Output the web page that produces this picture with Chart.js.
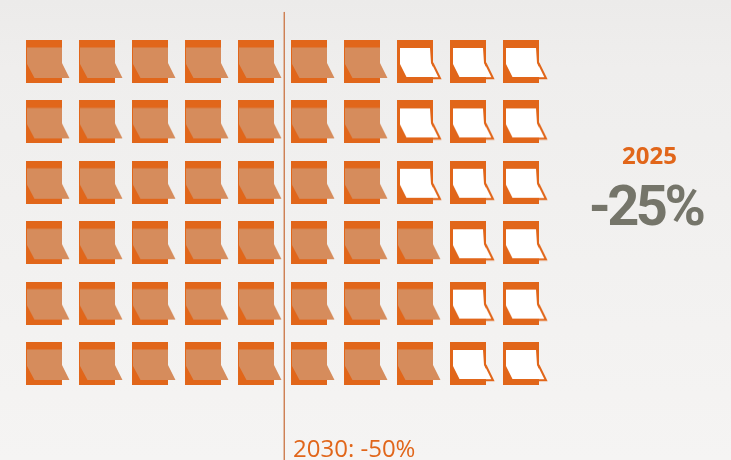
<!DOCTYPE html>
<html>
<head>
<meta charset="utf-8">
<title>Notes</title>
<script src="https://cdn.jsdelivr.net/npm/chart.js@4/dist/chart.umd.min.js"></script>
<style>
  html, body { margin: 0; padding: 0; width: 731px; height: 460px; overflow: hidden; }
  body { background: linear-gradient(#ecebea 0%, #efeeed 15%, #f5f4f3 100%); }
  canvas { display: block; }
</style>
</head>
<body>
<canvas id="notes" width="731" height="460"></canvas>
<script>
// one row per line of notes, how many of the ten are used up
const columns = [1, 2, 3, 4, 5, 6, 7, 8, 9, 10];
const rows = [1, 2, 3, 4, 5, 6];
const usedPerRow = [7, 7, 7, 8, 8, 8];

// 2030 marker sits between the fifth and sixth columns
const markerX = [5.44, 5.44];
const markerY = [0.18, 7.6];

const yearLabel = '2025';
const changeLabel = '-25%';
const markerLabel = '2030: -50%';

const orange = '#e1661a';
const faded = '#d68c5c';
const grey = '#75756a';

// note icon with a curled corner
function noteIcon(used) {
  const c = document.createElement('canvas');
  c.width = 46;
  c.height = 43;
  const g = c.getContext('2d');
  g.fillStyle = orange;
  g.fillRect(0, 0, 36, 43);

  const sheet = new Path2D();
  if (used) {
    sheet.moveTo(1, 7.5);
    sheet.lineTo(36, 7.5);
    sheet.lineTo(36, 23);
    sheet.lineTo(43.5, 38);
    sheet.lineTo(8.5, 38);
    sheet.lineTo(1, 24);
    sheet.closePath();
    g.fillStyle = faded;
    g.fill(sheet);
  } else {
    sheet.moveTo(3, 8);
    sheet.lineTo(33, 8);
    sheet.lineTo(34, 23);
    sheet.lineTo(41, 37);
    sheet.lineTo(9.5, 37);
    sheet.lineTo(3, 24);
    sheet.closePath();
    g.fillStyle = '#fff';
    g.fill(sheet);
    g.strokeStyle = orange;
    g.lineWidth = 2;
    g.beginPath();
    g.moveTo(35.5, 23);
    g.lineTo(43, 38.2);
    g.lineTo(36, 38.2);
    g.stroke();
  }
  return c;
}

const usedPoints = [];
const freePoints = [];
rows.forEach((r, i) => {
  columns.forEach(col => {
    (col <= usedPerRow[i] ? usedPoints : freePoints).push({ x: col, y: r });
  });
});

// texts to the right of the grid and under the marker line
const labelsPlugin = {
  id: 'labels',
  afterDraw(chart) {
    const ctx = chart.ctx;
    ctx.save();
    ctx.textBaseline = 'alphabetic';
    ctx.textAlign = 'center';
    ctx.fillStyle = orange;
    ctx.font = 'bold 24px "Open Sans"';
    ctx.fillText(yearLabel, 649.5, 164);
    ctx.fillStyle = grey;
    ctx.font = 'bold 56px Roboto';
    ctx.letterSpacing = '-3.5px';
    ctx.fillText(changeLabel, 645.5, 225);
    ctx.letterSpacing = '0px';
    ctx.textAlign = 'left';
    ctx.fillStyle = orange;
    ctx.font = '24px "Open Sans"';
    ctx.fillText(markerLabel, 293, 457);
    ctx.restore();
  }
};

new Chart(document.getElementById('notes'), {
  type: 'scatter',
  data: {
    datasets: [
      {
        label: 'used',
        data: usedPoints,
        pointStyle: noteIcon(true),
        pointRadius: 20
      },
      {
        label: 'left',
        data: freePoints,
        pointStyle: noteIcon(false),
        pointRadius: 20
      },
      {
        type: 'line',
        label: '2030',
        data: markerX.map((x, i) => ({ x: x, y: markerY[i] })),
        borderColor: '#cf8055',
        borderWidth: 1,
        pointRadius: 0,
        clip: false
      }
    ]
  },
  options: {
    responsive: false,
    animation: false,
    layout: { padding: { left: 22.5, right: 178.5, top: 31.3, bottom: 66.3 } },
    plugins: { legend: { display: false }, tooltip: { enabled: false } },
    scales: {
      x: { type: 'linear', min: 0.5, max: 10.5, display: false },
      y: { type: 'linear', min: 0.5, max: 6.5, reverse: true, display: false }
    }
  },
  plugins: [labelsPlugin]
});
</script>
</body>
</html>
